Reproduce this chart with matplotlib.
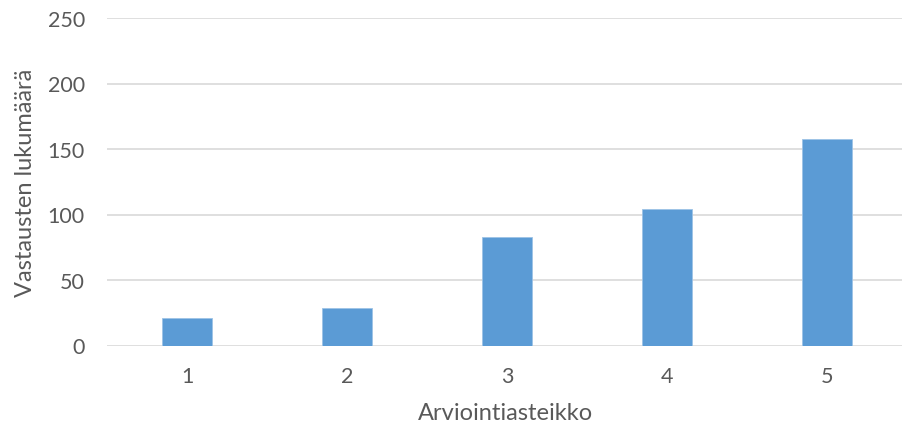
import matplotlib
matplotlib.use("Agg")
import matplotlib.pyplot as plt

categories = ["1", "2", "3", "4", "5"]
values = [21, 29, 83, 104, 158]
yticks = [0, 50, 100, 150, 200, 250]
xlabel = "Arviointiasteikko"
ylabel = "Vastausten lukumäärä"

plt.rcParams['font.family'] = ['Lato', 'DejaVu Sans']
text_color = "#595959"

fig = plt.figure(figsize=(9.03, 4.31), dpi=100)
left = 107 / 903
bottom = 1 - 346.5 / 431
top = 1 - 19 / 431
ax = fig.add_axes([left, bottom, 1 - left, top - bottom])

x = list(range(1, len(categories) + 1))
ax.bar(x, values, width=0.3125, color="#5B9BD5", edgecolor="#9DC3E6", linewidth=0.6, zorder=3)

ax.set_xlim(0.5, 0.5 + 796 / 160)
ax.set_ylim(0, 250)
ax.set_yticks(yticks)
ax.set_xticks(x)
ax.set_xticklabels(categories)
ax.grid(axis="y", color="#D9D9D9", linewidth=1.2, zorder=0)
for s in ax.spines.values():
    s.set_visible(False)
ax.tick_params(axis="both", length=0, labelsize=15.5, colors=text_color)
ax.tick_params(axis="y", pad=16)
ax.tick_params(axis="x", pad=15)
ax.set_xlabel(xlabel, fontsize=17, color=text_color, labelpad=11)
ax.set_ylabel(ylabel, fontsize=17, color=text_color, labelpad=8)

fig.savefig("out.png", dpi=100)
